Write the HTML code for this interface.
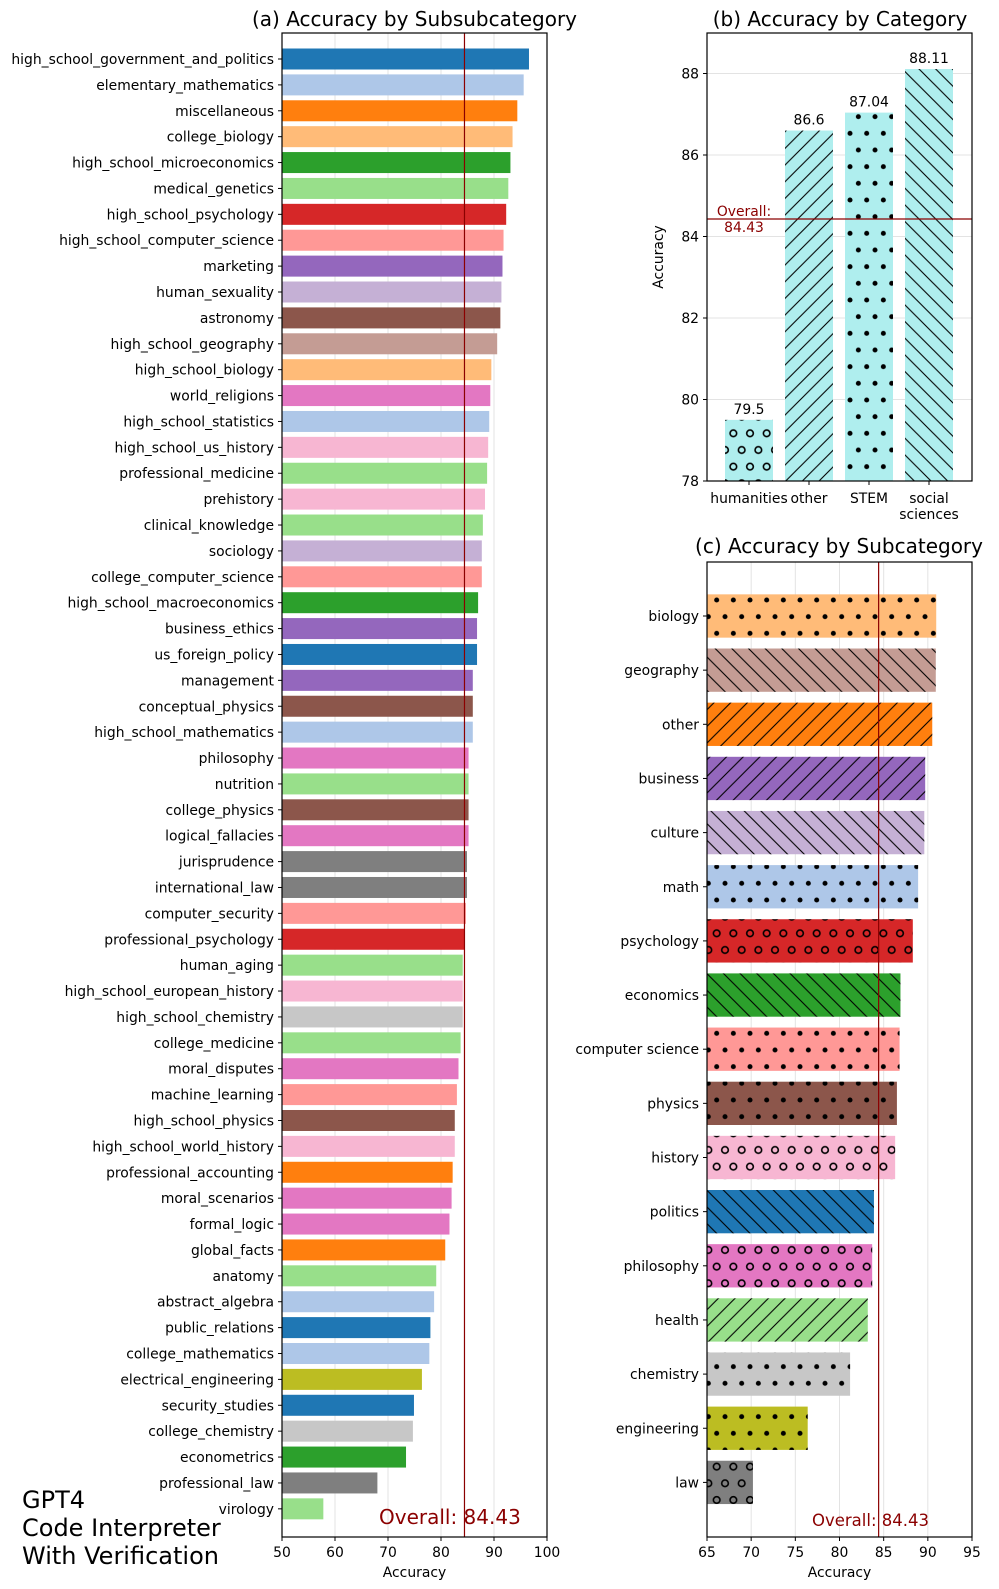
<!DOCTYPE html>
<html><head><meta charset="utf-8"><style>
html,body{margin:0;padding:0;background:#fff;}
svg{display:block;font-family:"DejaVu Sans","Liberation Sans",sans-serif;}
</style></head><body>
<svg id="fig" width="999" height="1589" viewBox="0 0 999 1589" xmlns="http://www.w3.org/2000/svg">
<defs>
<pattern id="h-fs" patternUnits="userSpaceOnUse" width="16.667" height="16.667"><path d="M0,16.667 L16.667,0 M-2,2 L2,-2 M14.667,18.667 L18.667,14.667" stroke="#000" stroke-width="1.1"/></pattern>
<pattern id="h-bs" patternUnits="userSpaceOnUse" width="16.667" height="16.667"><path d="M0,0 L16.667,16.667 M-2,14.667 L2,18.667 M14.667,-2 L18.667,2" stroke="#000" stroke-width="1.1"/></pattern>
<pattern id="h-dot" patternUnits="userSpaceOnUse" width="16.667" height="33.333"><circle cx="0" cy="0" r="2.5"/><circle cx="16.667" cy="0" r="2.5"/><circle cx="0" cy="33.333" r="2.5"/><circle cx="16.667" cy="33.333" r="2.5"/><circle cx="8.333" cy="16.667" r="2.5"/></pattern>
<pattern id="h-o" patternUnits="userSpaceOnUse" width="16.667" height="33.333"><g fill="none" stroke="#000" stroke-width="1.6"><circle cx="0" cy="0" r="3.3"/><circle cx="16.667" cy="0" r="3.3"/><circle cx="0" cy="33.333" r="3.3"/><circle cx="16.667" cy="33.333" r="3.3"/><circle cx="8.333" cy="16.667" r="3.3"/></g></pattern>
</defs>
<g id="pa"></g>
<g id="pb"></g>
<g id="pc"></g>
<text x="22" y="1508" font-size="24">GPT4</text>
<text x="22" y="1536" font-size="24">Code Interpreter</text>
<text x="22" y="1564" font-size="24">With Verification</text>
</svg>
<script>
const overall = 84.43;
// Panel A data
const aCats = ["high_school_government_and_politics","elementary_mathematics","miscellaneous","college_biology","high_school_microeconomics","medical_genetics","high_school_psychology","high_school_computer_science","marketing","human_sexuality","astronomy","high_school_geography","high_school_biology","world_religions","high_school_statistics","high_school_us_history","professional_medicine","prehistory","clinical_knowledge","sociology","college_computer_science","high_school_macroeconomics","business_ethics","us_foreign_policy","management","conceptual_physics","high_school_mathematics","philosophy","nutrition","college_physics","logical_fallacies","jurisprudence","international_law","computer_security","professional_psychology","human_aging","high_school_european_history","high_school_chemistry","college_medicine","moral_disputes","machine_learning","high_school_physics","high_school_world_history","professional_accounting","moral_scenarios","formal_logic","global_facts","anatomy","abstract_algebra","public_relations","college_mathematics","electrical_engineering","security_studies","college_chemistry","econometrics","professional_law","virology"];
const aVals = [96.6,95.6,94.4,93.5,93.1,92.7,92.3,91.8,91.6,91.4,91.2,90.6,89.5,89.3,89.1,88.9,88.7,88.3,87.9,87.7,87.7,87.0,86.8,86.8,86.0,86.0,86.0,85.2,85.2,85.2,85.2,84.9,84.9,84.7,84.5,84.1,84.1,84.1,83.7,83.3,83.0,82.6,82.6,82.2,82.0,81.6,80.8,79.1,78.7,78.0,77.8,76.4,74.9,74.7,73.4,68.0,57.8];
const aGroups = ["politics","math","other","biology","economics","health","psychology","computer science","business","culture","physics","geography","biology","philosophy","math","history","health","history","health","culture","computer science","economics","business","politics","business","physics","math","philosophy","health","physics","philosophy","law","law","computer science","psychology","health","history","chemistry","health","philosophy","computer science","physics","history","other","philosophy","philosophy","other","health","math","politics","math","engineering","politics","chemistry","economics","law","virology-health"];
const aTicks = [50,60,70,80,90,100];
// Panel B data
const bCats = ["humanities","other","STEM","social sciences"];
const bVals = [79.5,86.6,87.04,88.11];
const bLabels = ["79.5","86.6","87.04","88.11"];
const bHatch = ["o","/",".","\\"];
const bTicks = [78,80,82,84,86,88];
// Panel C data
const cCats = ["biology","geography","other","business","culture","math","psychology","economics","computer science","physics","history","politics","philosophy","health","chemistry","engineering","law"];
const cVals = [90.95,90.9,90.5,89.7,89.6,88.9,88.3,86.9,86.8,86.5,86.3,83.9,83.7,83.2,81.2,76.4,70.2];
const cHatch = [".","\\","/","/","\\",".","o","\\",".",".","o","\\","o","/",".",".","o"];
const cTicks = [65,70,75,80,85,90,95];
const palette = {"biology":"#ffbb78","geography":"#c49c94","other":"#ff7f0e","business":"#9467bd","culture":"#c5b0d5","math":"#aec7e8","psychology":"#d62728","economics":"#2ca02c","computer science":"#ff9896","physics":"#8c564b","history":"#f7b6d2","politics":"#1f77b4","philosophy":"#e377c2","health":"#98df8a","virology-health":"#98df8a","chemistry":"#c7c7c7","engineering":"#bcbd22","law":"#7f7f7f"};
const hatchId = {"/":"h-fs","\\":"h-bs",".":"h-dot","o":"h-o"};

const NS="http://www.w3.org/2000/svg";
function mk(parent,tag,attrs,text){const e=document.createElementNS(NS,tag);for(const k in attrs)e.setAttribute(k,attrs[k]);if(text!==undefined)e.textContent=text;parent.appendChild(e);return e;}
const GRID="#e3e3e3", RED="#8b0000";

// ---------- Panel A ----------
(function(){
  const g=document.getElementById('pa');
  const L=282,R=547,T=33,B=1537;
  const x=v=>L+(v-50)/50*(R-L);
  const y=i=>59+i*25.89;
  const bh=21;
  aTicks.forEach(t=>{
    const gl=mk(g,'line',{x1:x(t),x2:x(t),y1:T,y2:B,stroke:GRID,'stroke-width':1});
    
    
  });
  aCats.forEach((c,i)=>{
    const r=mk(g,'rect',{x:x(50),y:y(i)-bh/2,width:x(aVals[i])-x(50),height:bh,fill:palette[aGroups[i]]});
    
    
    mk(g,'line',{x1:L-4,x2:L,y1:y(i),y2:y(i),stroke:'#000','stroke-width':1});
    const t=mk(g,'text',{x:L-8,y:y(i)+5,'font-size':13.9,'text-anchor':'end',fill:'#000'},c);
    
    
  });
  const ol=mk(g,'line',{x1:x(overall),x2:x(overall),y1:T,y2:B,stroke:RED,'stroke-width':1.2});
  
  
  const ot=mk(g,'text',{x:x(68.3),y:1524,'font-size':20,fill:RED},'Overall: '+overall);
  
  
  mk(g,'rect',{x:L,y:T,width:R-L,height:B-T,fill:'none',stroke:'#000','stroke-width':1.2});
  aTicks.forEach(t=>{
    mk(g,'line',{x1:x(t),x2:x(t),y1:B,y2:B+4,stroke:'#000','stroke-width':1});
    const tl=mk(g,'text',{x:x(t),y:1557,'font-size':13.9,'text-anchor':'middle'},String(t));
    
    
  });
  const xl=mk(g,'text',{x:(L+R)/2,y:1577,'font-size':13.9,'text-anchor':'middle'},'Accuracy');
  
  
  const ti=mk(g,'text',{x:(L+R)/2,y:26,'font-size':20,'text-anchor':'middle'},'(a) Accuracy by Subsubcategory');
  
  
})();

// ---------- Panel B ----------
(function(){
  const g=document.getElementById('pb');
  const L=707,R=972,T=33,B=481;
  const y=v=>B-(v-78)*40.75;
  const xc=i=>L+(i+0.7)*60;
  const bw=48;
  bTicks.forEach(t=>{
    const gl=mk(g,'line',{x1:L,x2:R,y1:y(t),y2:y(t),stroke:GRID,'stroke-width':1});
    
    
  });
  bCats.forEach((c,i)=>{
    const top=y(bVals[i]);
    const r=mk(g,'rect',{x:xc(i)-bw/2,y:top,width:bw,height:B-top,fill:'#afeeee'});
    
    
    mk(g,'rect',{x:xc(i)-bw/2,y:top,width:bw,height:B-top,fill:'url(#'+hatchId[bHatch[i]]+')'});
    const v=mk(g,'text',{x:xc(i),y:top-6,'font-size':13.9,'text-anchor':'middle'},bLabels[i]);
    
    
    mk(g,'line',{x1:xc(i),x2:xc(i),y1:B,y2:B+4,stroke:'#000','stroke-width':1});
    const parts=c.split(' ');
    parts.forEach((p,k)=>{
      const tl=mk(g,'text',{x:xc(i),y:503+k*16,'font-size':13.9,'text-anchor':'middle'},p);
      
      
    });
  });
  const ol=mk(g,'line',{x1:L,x2:R,y1:y(overall),y2:y(overall),stroke:RED,'stroke-width':1.2});
  
  
  const o1=mk(g,'text',{x:744,y:y(overall)-3,'font-size':13.9,'text-anchor':'middle',fill:RED},'Overall:');
  
  
  mk(g,'text',{x:744,y:y(overall)+13,'font-size':13.9,'text-anchor':'middle',fill:RED},String(overall));
  mk(g,'rect',{x:L,y:T,width:R-L,height:B-T,fill:'none',stroke:'#000','stroke-width':1.2});
  bTicks.forEach(t=>{
    mk(g,'line',{x1:L-4,x2:L,y1:y(t),y2:y(t),stroke:'#000','stroke-width':1});
    const tl=mk(g,'text',{x:L-8,y:y(t)+5,'font-size':13.9,'text-anchor':'end'},String(t));
    
    
  });
  const yl=mk(g,'text',{x:0,y:0,'font-size':13.9,'text-anchor':'middle',transform:'translate(663,257) rotate(-90)'},'Accuracy');
  
  
  const ti=mk(g,'text',{x:840,y:26,'font-size':20,'text-anchor':'middle'},'(b) Accuracy by Category');
  
  
})();

// ---------- Panel C ----------
(function(){
  const g=document.getElementById('pc');
  const L=707,R=972,T=562,B=1537;
  const x=v=>L+(v-65)/30*(R-L);
  const yc=i=>616+i*54.15;
  const bh=43.3;
  cTicks.forEach(t=>{
    const gl=mk(g,'line',{x1:x(t),x2:x(t),y1:T,y2:B,stroke:GRID,'stroke-width':1});
    
    
  });
  cCats.forEach((c,i)=>{
    const w=x(cVals[i])-x(65);
    const r=mk(g,'rect',{x:L,y:yc(i)-bh/2,width:w,height:bh,fill:palette[c]});
    
    
    mk(g,'rect',{x:L,y:yc(i)-bh/2,width:w,height:bh,fill:'url(#'+hatchId[cHatch[i]]+')'});
    mk(g,'line',{x1:L-4,x2:L,y1:yc(i),y2:yc(i),stroke:'#000','stroke-width':1});
    const t=mk(g,'text',{x:L-8,y:yc(i)+5,'font-size':13.9,'text-anchor':'end'},c);
    
    
  });
  const ol=mk(g,'line',{x1:x(overall),x2:x(overall),y1:T,y2:B,stroke:RED,'stroke-width':1.2});
  
  
  const ot=mk(g,'text',{x:812,y:1526,'font-size':16.5,fill:RED},'Overall: '+overall);
  
  
  mk(g,'rect',{x:L,y:T,width:R-L,height:B-T,fill:'none',stroke:'#000','stroke-width':1.2});
  cTicks.forEach(t=>{
    mk(g,'line',{x1:x(t),x2:x(t),y1:B,y2:B+4,stroke:'#000','stroke-width':1});
    const tl=mk(g,'text',{x:x(t),y:1557,'font-size':13.9,'text-anchor':'middle'},String(t));
    
    
  });
  const xl=mk(g,'text',{x:(L+R)/2,y:1577,'font-size':13.9,'text-anchor':'middle'},'Accuracy');
  
  
  const ti=mk(g,'text',{x:839,y:553,'font-size':20,'text-anchor':'middle'},'(c) Accuracy by Subcategory');
  
  
})();
</script>
</body></html>
